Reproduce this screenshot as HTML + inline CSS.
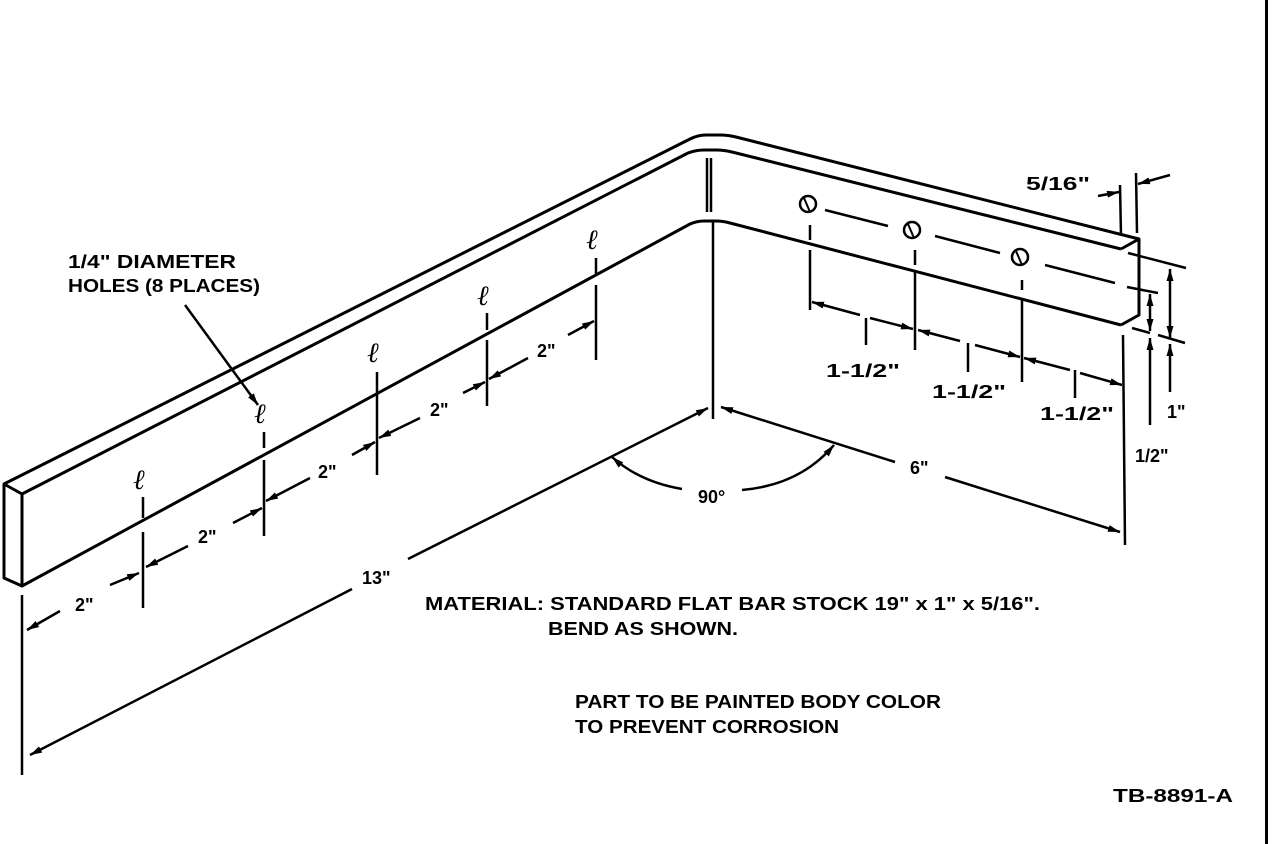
<!DOCTYPE html>
<html><head><meta charset="utf-8"><style>
html,body{margin:0;padding:0;background:#fff;}
svg{display:block;}
text{font-family:"Liberation Sans",sans-serif;font-weight:bold;fill:#000;}
.h{font-family:"Liberation Serif",serif;font-weight:normal;font-style:italic;font-size:28px;}
</style></head><body>
<svg width="1280" height="844" viewBox="0 0 1280 844" xmlns="http://www.w3.org/2000/svg">
<defs>
<marker id="a" viewBox="0 0 12 7" refX="12" refY="3.5" markerWidth="12" markerHeight="7" markerUnits="userSpaceOnUse" orient="auto"><path d="M0,0 L12,3.5 L0,7 Z" fill="#000"/></marker>
</defs>
<g fill="none" stroke="#000" stroke-width="3" stroke-linejoin="round">
<path d="M4,484 L690,139 Q698,135 706,135 L720,135 Q728,135 736,137 L1139,239"/>
<path d="M22,494 L688,153 Q696,150 704,150 L716,150 Q724,150 732,152 L1121,249"/>
<path d="M4,484 L22,494 L22,586 L4,578 Z"/>
<path d="M1121,249 L1139,239 L1139,315 L1121,325"/>
<path d="M22,586 L690,224 Q697,221 704,221 L716,221 Q723,221 730,223 L1121,325"/>
</g>
<g fill="none" stroke="#000" stroke-width="2.5">
<line x1="707" y1="158" x2="707" y2="212"/>
<line x1="711" y1="158" x2="711" y2="212"/>
<line x1="713" y1="222" x2="713" y2="419"/>
<!-- right holes -->
<circle cx="808" cy="204" r="8"/>
<circle cx="912" cy="230" r="8"/>
<circle cx="1020" cy="257" r="8"/>
<path d="M804,198 L810,212 M908,224 L914,238 M1016,251 L1022,265" stroke-width="2"/>
<path d="M825,210 L888,226 M935,236 L1000,253 M1045,265 L1115,283"/>
<!-- left extension lines -->
<path d="M143,497 V518 M143,532 V608"/>
<path d="M264,432 V448 M264,460 V536"/>
<path d="M377,372 V475"/>
<path d="M487,313 V330 M487,340 V406"/>
<path d="M596,258 V275 M596,285 V360"/>
<line x1="22" y1="595" x2="22" y2="775"/>
<!-- right extension lines -->
<path d="M810,225 V240 M810,250 V310"/>
<path d="M915,250 V265 M915,270 V350"/>
<path d="M1022,280 V290 M1022,300 V382"/>
<line x1="866" y1="318" x2="866" y2="345"/>
<line x1="968" y1="343" x2="968" y2="372"/>
<line x1="1075" y1="370" x2="1075" y2="398"/>
<line x1="1123" y1="335" x2="1125" y2="545"/>
<line x1="1120" y1="185" x2="1121" y2="236"/>
<line x1="1136" y1="173" x2="1137" y2="233"/>
<line x1="1128" y1="253" x2="1186" y2="268"/>
<line x1="1127" y1="287" x2="1158" y2="293"/>
<line x1="1132" y1="328" x2="1150" y2="333"/>
<line x1="1158" y1="335" x2="1185" y2="343"/>
<!-- leader -->
<line x1="185" y1="305" x2="258" y2="405" marker-end="url(#a)"/>
<!-- 2" dims -->
<line x1="60" y1="611" x2="27" y2="630" marker-end="url(#a)"/>
<line x1="110" y1="585" x2="139" y2="573" marker-end="url(#a)"/>
<line x1="188" y1="546" x2="146" y2="567" marker-end="url(#a)"/>
<line x1="233" y1="523" x2="262" y2="508" marker-end="url(#a)"/>
<line x1="310" y1="478" x2="266" y2="501" marker-end="url(#a)"/>
<line x1="352" y1="455" x2="375" y2="442" marker-end="url(#a)"/>
<line x1="420" y1="418" x2="379" y2="438" marker-end="url(#a)"/>
<line x1="463" y1="393" x2="485" y2="382" marker-end="url(#a)"/>
<line x1="528" y1="358" x2="489" y2="379" marker-end="url(#a)"/>
<line x1="568" y1="335" x2="594" y2="321" marker-end="url(#a)"/>
<!-- 13" -->
<line x1="408" y1="559" x2="708" y2="408" marker-end="url(#a)"/>
<line x1="352" y1="589" x2="30" y2="755" marker-end="url(#a)"/>
<!-- 6" -->
<line x1="895" y1="462" x2="721" y2="407" marker-end="url(#a)"/>
<line x1="945" y1="477" x2="1120" y2="532" marker-end="url(#a)"/>
<!-- 90 arc -->
<path d="M682,489 Q640,482 612,457" marker-end="url(#a)"/>
<path d="M742,490 Q800,485 834,445" marker-end="url(#a)"/>
<!-- 1-1/2 -->
<line x1="860" y1="315" x2="812" y2="302" marker-end="url(#a)"/>
<line x1="870" y1="318" x2="913" y2="329" marker-end="url(#a)"/>
<line x1="960" y1="341" x2="918" y2="330" marker-end="url(#a)"/>
<line x1="975" y1="345" x2="1020" y2="357" marker-end="url(#a)"/>
<line x1="1070" y1="370" x2="1024" y2="358" marker-end="url(#a)"/>
<line x1="1080" y1="373" x2="1122" y2="385" marker-end="url(#a)"/>
<!-- 5/16 -->
<line x1="1098" y1="196" x2="1119" y2="192" marker-end="url(#a)"/>
<line x1="1170" y1="175" x2="1138" y2="184" marker-end="url(#a)"/>
<!-- 1" -->
<line x1="1170" y1="300" x2="1170" y2="269" marker-end="url(#a)"/>
<line x1="1170" y1="300" x2="1170" y2="338" marker-end="url(#a)"/>
<line x1="1170" y1="392" x2="1170" y2="344" marker-end="url(#a)"/>
<!-- 1/2" -->
<line x1="1150" y1="312" x2="1150" y2="294" marker-end="url(#a)"/>
<line x1="1150" y1="312" x2="1150" y2="331" marker-end="url(#a)"/>
<line x1="1150" y1="425" x2="1150" y2="338" marker-end="url(#a)"/>
</g>
<!-- left holes -->
<text class="h" x="133" y="489">ℓ</text>
<text class="h" x="254" y="423">ℓ</text>
<text class="h" x="367" y="362">ℓ</text>
<text class="h" x="477" y="305">ℓ</text>
<text class="h" x="586" y="249">ℓ</text>
<rect x="1265" y="0" width="3" height="844" fill="#000"/>
<g font-size="18">
<text x="68" y="268" textLength="168" lengthAdjust="spacingAndGlyphs">1/4" DIAMETER</text>
<text x="68" y="292" textLength="192" lengthAdjust="spacingAndGlyphs">HOLES (8 PLACES)</text>
<text x="75" y="611">2"</text>
<text x="198" y="543">2"</text>
<text x="318" y="478">2"</text>
<text x="430" y="416">2"</text>
<text x="537" y="357">2"</text>
<text x="362" y="584">13"</text>
<text x="698" y="503">90°</text>
<text x="910" y="474">6"</text>
<text x="826" y="377" textLength="74" lengthAdjust="spacingAndGlyphs">1-1/2"</text>
<text x="932" y="398" textLength="74" lengthAdjust="spacingAndGlyphs">1-1/2"</text>
<text x="1040" y="420" textLength="74" lengthAdjust="spacingAndGlyphs">1-1/2"</text>
<text x="1026" y="190" textLength="64" lengthAdjust="spacingAndGlyphs">5/16"</text>
<text x="1167" y="418">1"</text>
<text x="1135" y="462">1/2"</text>
<text x="425" y="610" textLength="615" lengthAdjust="spacingAndGlyphs">MATERIAL: STANDARD FLAT BAR STOCK 19" x 1" x 5/16".</text>
<text x="548" y="635" textLength="190" lengthAdjust="spacingAndGlyphs">BEND AS SHOWN.</text>
<text x="575" y="708" textLength="366" lengthAdjust="spacingAndGlyphs">PART TO BE PAINTED BODY COLOR</text>
<text x="575" y="733" textLength="264" lengthAdjust="spacingAndGlyphs">TO PREVENT CORROSION</text>
<text x="1113" y="802" textLength="120" lengthAdjust="spacingAndGlyphs">TB-8891-A</text>
</g>
</svg>
</body></html>
